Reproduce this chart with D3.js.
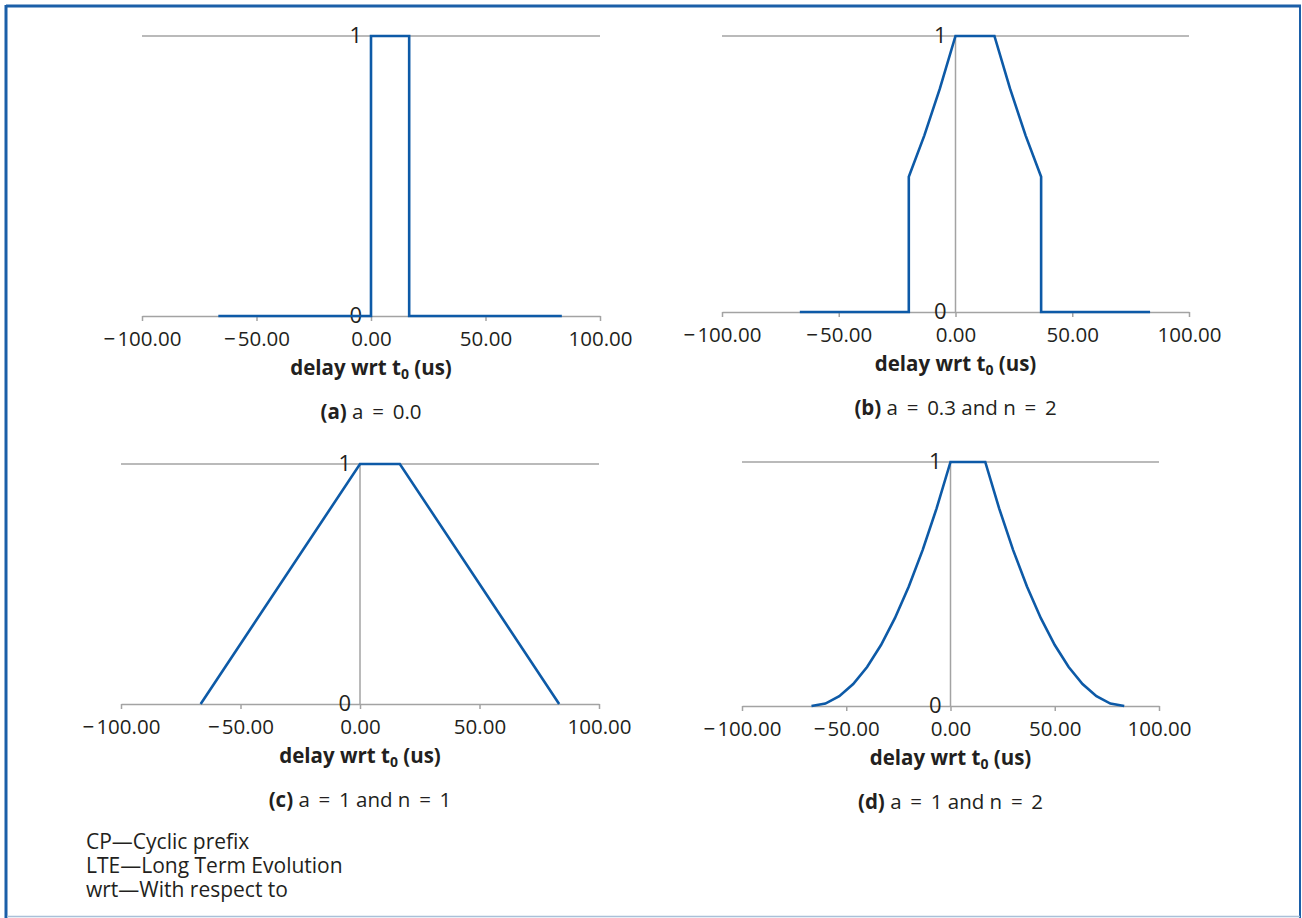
<!DOCTYPE html>
<html>
<head>
<meta charset="utf-8">
<script src="https://cdn.jsdelivr.net/npm/d3@7/dist/d3.min.js"></script>
<style>
  body { margin: 0; background: #fff; }
  svg { display: block; font-family: "Open Sans", "Noto Sans", sans-serif; }
</style>
</head>
<body>
<svg id="chart" width="1302" height="918"></svg>
<script>
// x ticks shared by every panel
var tickValues = [-100, -50, 0, 50, 100];

// (a) a = 0.0
var xA = [-66.67, 0, 0, 16.67, 16.67, 83.33];
var yA = [0, 0, 1, 1, 0, 0];

// (b) a = 0.3 and n = 2
var xB = [-66.67, -20, -20, -13.33, -6.67, 0, 16.67, 23.33, 30, 36.67, 36.67, 83.33];
var yB = [0, 0, 0.49, 0.64, 0.81, 1, 1, 0.81, 0.64, 0.49, 0, 0];

// (c) a = 1 and n = 1
var xC = [-66.67, 0, 16.67, 83.33];
var yC = [0, 1, 1, 0];

// (d) a = 1 and n = 2
var xD = [-66.67, -60, -53.33, -46.67, -40, -33.33, -26.67, -20, -13.33, -6.67, 0,
          16.67, 23.33, 30, 36.67, 43.33, 50, 56.67, 63.33, 70, 76.67, 83.33];
var yD = [0, 0.01, 0.04, 0.09, 0.16, 0.25, 0.36, 0.49, 0.64, 0.81, 1,
          1, 0.81, 0.64, 0.49, 0.36, 0.25, 0.16, 0.09, 0.04, 0.01, 0];

var captions = [
    {tag: "(a)", rest: " a = 0.0"},
    {tag: "(b)", rest: " a = 0.3 and n = 2"},
    {tag: "(c)", rest: " a = 1 and n = 1"},
    {tag: "(d)", rest: " a = 1 and n = 2"}
];

var notes = ["CP\u2014Cyclic prefix", "LTE\u2014Long Term Evolution", "wrt\u2014With respect to"];

var svg = d3.select("#chart");
var blue = "#0d5aa7", grey = "#a3a3a3", ink = "#231f20";
var fs = 20.5;

// frame
svg.append("line").attr("x1", 6).attr("x2", 1301).attr("y1", 6).attr("y2", 6)
    .attr("stroke", "#1b5fa8").attr("stroke-width", 3);
svg.append("line").attr("x1", 6).attr("x2", 6).attr("y1", 5).attr("y2", 918)
    .attr("stroke", "#1b5fa8").attr("stroke-width", 3);
svg.append("line").attr("x1", 1300).attr("x2", 1300).attr("y1", 5).attr("y2", 918)
    .attr("stroke", "#1b5fa8").attr("stroke-width", 2);
svg.append("line").attr("x1", 7).attr("x2", 1300).attr("y1", 916.5).attr("y2", 916.5)
    .attr("stroke", "#a9c0d8").attr("stroke-width", 1.5);

function fmt(d) {
    return (d < 0 ? "\u2212\u200a" : "") + Math.abs(d).toFixed(2);
}

function panel(xs, ys, left, right, top, bottom, cap) {
    var x = d3.scaleLinear().domain([-100, 100]).range([left, right]);
    var y = d3.scaleLinear().domain([0, 1]).range([bottom, top]);
    var g = svg.append("g");

    // gridline at 1
    g.append("line")
        .attr("x1", x(-100)).attr("x2", x(100))
        .attr("y1", y(1)).attr("y2", y(1))
        .attr("stroke", grey).attr("stroke-width", 1.5);

    // vertical axis at x = 0
    g.append("line")
        .attr("x1", x(0)).attr("x2", x(0))
        .attr("y1", y(0)).attr("y2", y(1))
        .attr("stroke", grey).attr("stroke-width", 1.5);

    // x axis
    var ax = g.append("g")
        .attr("transform", "translate(0," + y(0) + ")")
        .call(d3.axisBottom(x).tickValues(tickValues).tickFormat(fmt)
            .tickSizeInner(5).tickSizeOuter(0).tickPadding(10));
    ax.select(".domain").attr("stroke", grey).attr("stroke-width", 1.5);
    ax.selectAll(".tick line").attr("stroke", grey).attr("stroke-width", 1.5);
    ax.selectAll(".tick text")
        .attr("fill", ink).attr("font-size", fs)
        .attr("font-family", "\"Open Sans\", sans-serif");

    // y labels 0 and 1
    [0, 1].forEach(function (v) {
        g.append("text")
            .attr("x", x(0) - 9).attr("y", y(v) - 1)
            .attr("dy", "0.35em")
            .attr("text-anchor", "end")
            .attr("font-size", 22).attr("fill", ink)
            .text(v);
    });

    // curve
    var pts = xs.map(function (d, i) { return [d, ys[i]]; });
    g.append("path")
        .datum(pts)
        .attr("fill", "none")
        .attr("stroke", blue)
        .attr("stroke-width", 2.6)
        .attr("d", d3.line()
            .x(function (d) { return x(d[0]); })
            .y(function (d) { return y(d[1]); }));

    // axis title
    var t = g.append("text")
        .attr("x", x(0)).attr("y", y(0) + 59)
        .attr("text-anchor", "middle")
        .attr("font-size", fs).attr("font-weight", "bold").attr("fill", ink);
    t.append("tspan").text("delay wrt t");
    t.append("tspan").attr("font-size", 14).attr("dy", 4).text("0");
    t.append("tspan").attr("dy", -4).text(" (us)");

    // caption
    var c = g.append("text")
        .attr("x", x(0)).attr("y", y(0) + 103)
        .attr("text-anchor", "middle")
        .attr("font-size", fs).attr("fill", ink);
    c.append("tspan").attr("font-weight", "bold").text(cap.tag);
    c.append("tspan").text(cap.rest.replace(/ = /g, " \u2009=\u2009 "));
}

panel(xA, yA, 142, 600, 36, 316, captions[0]);
panel(xB, yB, 722, 1189, 36, 312, captions[1]);
panel(xC, yC, 121, 599, 464, 704, captions[2]);
panel(xD, yD, 742, 1159, 462, 706, captions[3]);

svg.selectAll(".note")
    .data(notes)
    .enter().append("text")
    .attr("class", "note")
    .attr("x", 86)
    .attr("y", function (d, i) { return 849 + i * 24; })
    .attr("font-size", 21)
    .attr("fill", ink)
    .text(function (d) { return d; });
</script>
</body>
</html>
